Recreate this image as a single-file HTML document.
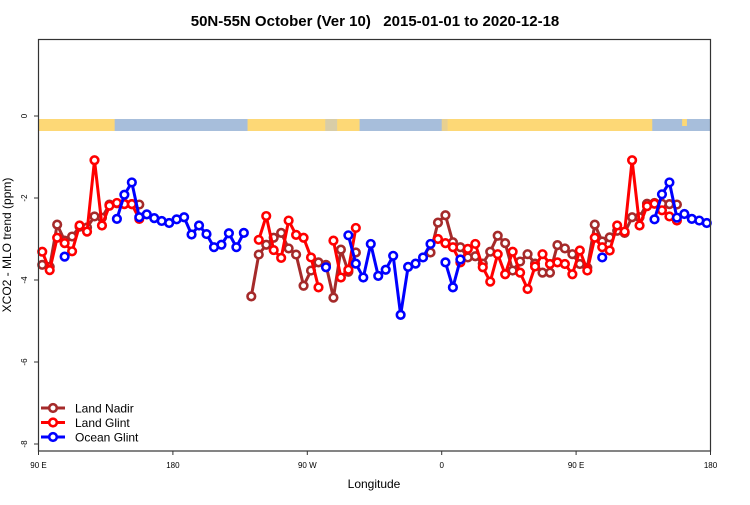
<!DOCTYPE html>
<html><head><meta charset="utf-8"><style>
body{margin:0;background:#fff}
svg text{font-family:"Liberation Sans",sans-serif}
</style></head><body>
<svg id="chart" width="750" height="500" xmlns="http://www.w3.org/2000/svg">
<text x="375" y="26" text-anchor="middle" font-size="15" font-weight="bold" style="white-space:pre">50N-55N October (Ver 10)   2015-01-01 to 2020-12-18</text>
<g id="band"></g>
<g id="axes"></g>
<g id="series"></g>
<rect x="38.5" y="39.5" width="672" height="411.5" fill="none" stroke="#333" stroke-width="1.2"/>
<text x="374" y="488" text-anchor="middle" font-size="12">Longitude</text>
<text transform="translate(11,245) rotate(-90)" text-anchor="middle" font-size="12">XCO2 - MLO trend (ppm)</text>
<g id="legend"></g>
</svg>
<script>
const xTickVals=[90,180,270,360,450,540];
const xTickLabels=["90 E","180","90 W","0","90 E","180"];
const yTickVals=[0,-2,-4,-6,-8];
const lonStart=92.5, lonStep=5;
const landNadir=[-3.63,-3.68,-2.65,-3.04,-2.94,-2.70,-2.72,-2.45,-2.48,-2.16,-2.13,-2.14,-2.15,-2.16,null,null,null,null,null,null,null,null,null,null,null,null,null,null,
-4.40,-3.38,-3.14,-2.97,-2.85,-3.23,-3.38,-4.14,-3.77,-3.57,-3.63,-4.43,-3.26,-3.80,-3.33,null,null,null,null,null,null,null,null,null,
-3.33,-2.60,-2.42,-3.08,-3.20,-3.45,-3.42,-3.60,-3.31,-2.92,-3.10,-3.77,-3.55,-3.37,-3.60,-3.82,-3.82,-3.15,-3.23,-3.37,-3.61,-3.70,-2.65,-3.06,-2.96,-2.80,-2.85,-2.47,-2.47,-2.14,-2.12,-2.14,-2.15,-2.16];
const landGlint=[-3.31,-3.76,-2.97,-3.10,-3.30,-2.67,-2.82,-1.08,-2.67,-2.19,-2.12,-2.15,-2.15,-2.51,null,null,null,null,null,null,null,null,null,null,null,null,null,null,
null,-3.02,-2.44,-3.27,-3.46,-2.55,-2.90,-2.97,-3.45,-4.18,null,-3.04,-3.94,-3.75,-2.73,null,null,null,null,null,null,null,null,null,
null,-3.00,-3.10,-3.20,-3.57,-3.24,-3.12,-3.69,-4.04,-3.37,-3.86,-3.31,-3.82,-4.22,-3.67,-3.37,-3.61,-3.57,-3.61,-3.86,-3.28,-3.77,-2.97,-3.20,-3.28,-2.67,-2.82,-1.08,-2.67,-2.20,-2.14,-2.30,-2.45,-2.55];
const oceanGlint=[null,null,null,-3.43,null,null,null,null,null,null,-2.51,-1.92,-1.62,-2.47,-2.40,-2.49,-2.56,-2.61,-2.52,-2.47,-2.89,-2.67,-2.88,-3.20,-3.14,-2.86,-3.20,-2.85,
null,null,null,null,null,null,null,null,null,null,-3.69,null,null,-2.91,-3.60,-3.94,-3.12,-3.90,-3.75,-3.41,-4.85,-3.68,-3.60,-3.45,-3.12,
null,-3.57,-4.18,-3.50,
null,null,null,null,null,null,
null,null,null,null,null,null,
null,null,null,null,null,null,
-3.45,
null,null,null,null,null,null,
-2.52,-1.91,-1.62,-2.48,-2.39,-2.51,-2.55,-2.61];
const seriesNames=["Land Nadir","Land Glint","Ocean Glint"];
const seriesColors=["#A52A2A","#FF0000","#0000FF"];
const NS="http://www.w3.org/2000/svg";
function X(lon){return 38.5+(lon-90)*(672/450);}
function Y(v){return 116+(-v)*41;}
function mk(tag,attrs,parent){const e=document.createElementNS(NS,tag);for(const k in attrs)e.setAttribute(k,attrs[k]);parent.appendChild(e);return e;}
const band=document.getElementById('band');
const bandSegs=[[90,141,"#FDD876"],[141,230,"#A7BEDB"],[230,282,"#FDD876"],[282,290,"#D8CDA8"],[290,305,"#FDD876"],[305,360,"#A7BEDB"],[360,364,"#E8D090"],[364,501,"#FDD876"],[501,540,"#A7BEDB"],[521,524,"#FDD876"]];
bandSegs.forEach(s=>{const a=s[0],b=s[1];
const r=mk('rect',{x:X(a),y:119,width:X(b)-X(a)+0.3,height:(s[0]===521?7:12),fill:s[2]},band);

});
const axes=document.getElementById('axes');
xTickVals.forEach((v,i)=>{mk('line',{x1:X(v),x2:X(v),y1:451,y2:455,stroke:"#333"},axes);
const t=mk('text',{x:X(v),y:468,'font-size':8,'text-anchor':'middle'},axes);t.textContent=xTickLabels[i];

});
yTickVals.forEach(v=>{mk('line',{x1:34,x2:38.5,y1:Y(v),y2:Y(v),stroke:"#333"},axes);
const t=mk('text',{transform:`translate(27,${Y(v)}) rotate(-90)`,'font-size':8,'text-anchor':'middle'},axes);t.textContent=v;

});
const sg=document.getElementById('series');
[landNadir,landGlint,oceanGlint].forEach((arr,si)=>{
const g=mk('g',{},sg);


let seg=[];const segs=[];
arr.forEach((v,i)=>{if(v==null){if(seg.length)segs.push(seg);seg=[];}else seg.push([X(lonStart+i*lonStep),Y(v)]);});
if(seg.length)segs.push(seg);
segs.forEach(s=>{if(s.length>1)mk('polyline',{points:s.map(p=>p.join(',')).join(' '),fill:'none',stroke:seriesColors[si],'stroke-width':3,'stroke-linejoin':'round'},g);});
arr.forEach((v,i)=>{if(v==null)return;
const c=mk('circle',{cx:X(lonStart+i*lonStep),cy:Y(v),r:3.8,fill:'#fff',stroke:seriesColors[si],'stroke-width':2.6},g);

});
});
const lg=document.getElementById('legend');
seriesNames.forEach((n,i)=>{const y=408+i*14.5;
mk('line',{x1:41,x2:65,y1:y,y2:y,stroke:seriesColors[i],'stroke-width':3},lg);
mk('circle',{cx:53,cy:y,r:3.8,fill:'#fff',stroke:seriesColors[i],'stroke-width':2.6},lg);
const t=mk('text',{x:75,y:y+4.5,'font-size':12},lg);t.textContent=n;

});
</script>
</body></html>
